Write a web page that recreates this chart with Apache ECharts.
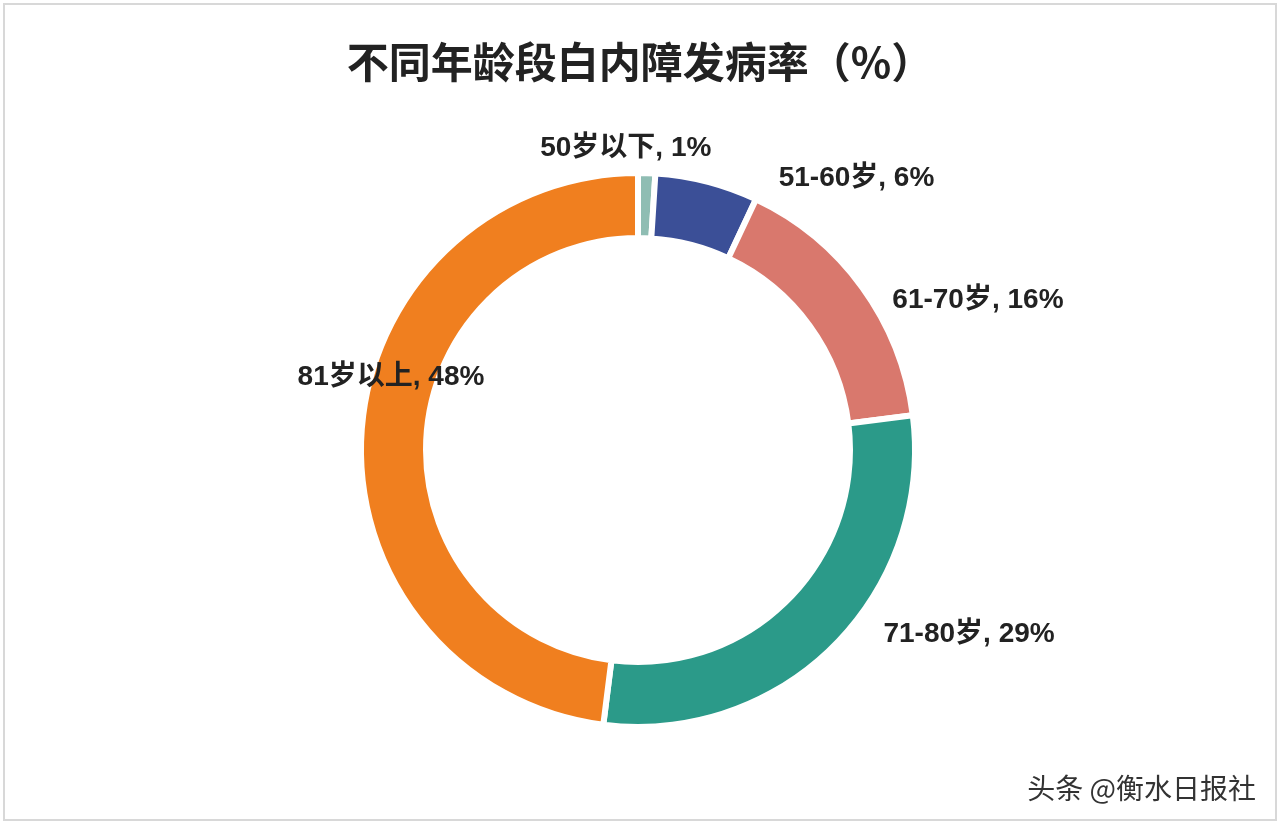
<!DOCTYPE html>
<html><head><meta charset="utf-8">
<script src="https://cdn.jsdelivr.net/npm/echarts@6/dist/echarts.min.js"></script>
<style>html,body{margin:0;background:#fff}#main{width:1280px;height:824px}</style>
</head><body><div id="main"></div>
<script>
var chart = echarts.init(document.getElementById('main'));
//年龄段和发病率
var ages = ['50岁以下', '51-60岁', '61-70岁', '71-80岁', '81岁以上'];
var rates = [1, 6, 16, 29, 48];
var colors = ['#8fbdb3', '#3b4f97', '#d9786d', '#2b9a89', '#f07f1f'];
//标签偏移
var labelPos = [
    {position: 'outside', distance: 8, offset: [-142, -10]},
    {position: 'outside', distance: 6, offset: [-6, -4]},
    {position: 'outside', distance: 6, offset: [-12, 22]},
    {position: 'outside', distance: 6, offset: [4, -22]},
    {position: 'inside', offset: [0, -57]}
];
var data = ages.map(function (a, i) {
    return {name: a, value: rates[i], itemStyle: {color: colors[i]}, label: labelPos[i]};
});
var option = {
    backgroundColor: '#fff',
    title: {
        text: '不同年龄段白内障发病率（%）',
        left: 'center', top: 36,
        textStyle: {color: '#222', fontSize: 42, fontWeight: 'bold', fontFamily: 'Noto Sans CJK SC'}
    },
    graphic: [
        {type: 'rect', shape: {x: 4, y: 4, width: 1272, height: 816}, style: {fill: 'none', stroke: '#d8d8d8', lineWidth: 2}},
        {type: 'text', right: 24, bottom: 22, style: {text: '头条 @衡水日报社', fill: '#333', fontSize: 28, fontFamily: 'Noto Sans CJK SC'}}
    ],
    series: [{
        type: 'pie',
        center: [638, 450],
        radius: [212, 277],
        startAngle: 90,
        clockwise: true,
        itemStyle: {borderColor: '#fff', borderWidth: 6},
        label: {
            show: true,
            formatter: '{b}, {c}%',
            color: '#222', fontSize: 28, fontWeight: 'bold',
            fontFamily: 'Liberation Sans, Noto Sans CJK SC'
        },
        labelLine: {show: false},
        emphasis: {scale: false},
        data: data
    }]
};
chart.setOption(option);
</script></body></html>
